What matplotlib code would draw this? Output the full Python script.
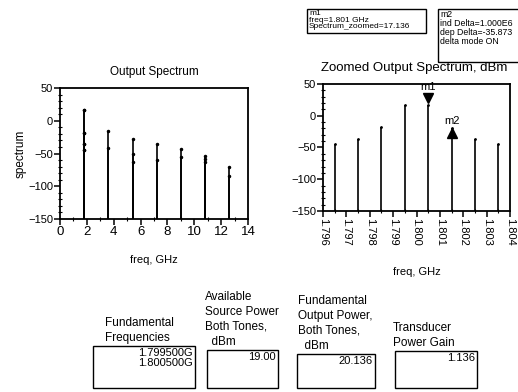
import matplotlib
matplotlib.use("Agg")
import matplotlib.pyplot as plt
import matplotlib.transforms as mtransforms
from matplotlib.patches import Rectangle
from matplotlib.ticker import MultipleLocator, FormatStrFormatter

# spectrum data (dBm)
harmonic_freq = [1.8, 3.6, 5.4, 7.2, 9.0, 10.8, 12.6]
harmonic_levels = [
    [-45, -36, -18, 17, 17.136, -18.7, -36, -45],
    [-15, -42],
    [-28, -50, -63],
    [-35, -60],
    [-43, -55],
    [-54, -58, -63],
    [-70, -84],
]
zoom_freq = [1.7965, 1.7975, 1.7985, 1.7995, 1.8005, 1.8015, 1.8025, 1.8035]
zoom_level = [-45, -36, -18, 17, 17.136, -18.7, -36, -45]
floor_db = -150

# summary readouts
fund_freqs = ["1.799500G", "1.800500G"]
source_power = "19.00"
output_power = "20.136"
tp_gain = "1.136"

plt.rcParams["font.family"] = ["Liberation Sans", "DejaVu Sans"]

W, H = 518, 392
fig = plt.figure(figsize=(W / 100, H / 100), dpi=100)


def px_rect(x0, y0, x1, y1):
    # pixel box (top-left origin) -> figure fraction [l, b, w, h]
    return [x0 / W, 1 - y1 / H, (x1 - x0) / W, (y1 - y0) / H]


def ftext(x, y, s, **kw):
    fig.text(x / W, 1 - y / H, s, **kw)


def style_axes(ax):
    for sp in ax.spines.values():
        sp.set_linewidth(1.3)
    ax.tick_params(which="major", direction="out", length=4, width=1.1, pad=1)
    ax.tick_params(which="minor", direction="inout", length=3, width=0.8)


# left: full output spectrum
ax1 = fig.add_axes(px_rect(60, 88, 248, 219))
for f, levels in zip(harmonic_freq, harmonic_levels):
    ax1.vlines([f] * len(levels), floor_db, levels, color="black", linewidth=1.2)
    ax1.plot([f] * len(levels), levels, ".", color="black", markersize=3)
ax1.set_xlim(0, 14)
ax1.set_ylim(-150, 50)
ax1.xaxis.set_major_locator(MultipleLocator(2))
ax1.xaxis.set_minor_locator(MultipleLocator(1))
ax1.yaxis.set_major_locator(MultipleLocator(50))
ax1.yaxis.set_minor_locator(MultipleLocator(10))
style_axes(ax1)
ax1.tick_params(axis="x", labelsize=9.5)
ax1.tick_params(axis="y", labelsize=8)
ax1.set_title("Output Spectrum", fontsize=8.5, pad=9)
ax1.set_xlabel("freq, GHz", fontsize=8, labelpad=12)
ax1.set_ylabel("spectrum", fontsize=8.5, labelpad=1)

# right: zoomed spectrum around the fundamentals
ax2 = fig.add_axes(px_rect(323, 84, 510, 211))
ax2.vlines(zoom_freq, floor_db, zoom_level, color="black", linewidth=1.2)
ax2.plot(zoom_freq, zoom_level, ".", color="black", markersize=2)
ax2.set_xlim(1.796, 1.804)
ax2.set_ylim(-150, 50)
ax2.xaxis.set_major_locator(MultipleLocator(0.001))
ax2.xaxis.set_major_formatter(FormatStrFormatter("%.3f"))
ax2.xaxis.set_minor_locator(MultipleLocator(0.0005))
ax2.yaxis.set_major_locator(MultipleLocator(50))
ax2.yaxis.set_minor_locator(MultipleLocator(10))
style_axes(ax2)
ax2.tick_params(axis="x", labelsize=8, labelrotation=-90)
ax2.tick_params(axis="y", labelsize=8)
ax2.set_xlabel("freq, GHz", fontsize=8, labelpad=15)

# markers m1 / m2
m1_x, m1_y = zoom_freq[4], zoom_level[4]
m2_x, m2_y = zoom_freq[5], zoom_level[5]
above = mtransforms.offset_copy(ax2.transData, fig=fig, x=0, y=5, units="points")
below = mtransforms.offset_copy(ax2.transData, fig=fig, x=0, y=-4, units="points")
ax2.plot(m1_x, m1_y, "v", color="black", markersize=7, transform=above, clip_on=False)
ax2.plot(m2_x, m2_y, "^", color="black", markersize=7, transform=below, clip_on=False)
ax2.annotate("m1", (m1_x, m1_y), xytext=(0, 9), textcoords="offset points",
             ha="center", va="bottom", fontsize=8)
ax2.annotate("m2", (m2_x, m2_y), xytext=(0, 1), textcoords="offset points",
             ha="center", va="bottom", fontsize=8)

ftext(414, 68, "Zoomed Output Spectrum, dBm", fontsize=9.5, ha="center", va="center")

# marker readout boxes
fig.add_artist(Rectangle((307 / W, 1 - 33 / H), 119 / W, 24 / H, transform=fig.transFigure,
                         facecolor="white", edgecolor="black", linewidth=1))
ftext(309, 10, "m1\nfreq=1.801 GHz\nSpectrum_zoomed=17.136", fontsize=6,
      va="top", ha="left", linespacing=0.95)
fig.add_artist(Rectangle((438 / W, 1 - 62 / H), 90 / W, 53 / H, transform=fig.transFigure,
                         facecolor="none", edgecolor="black", linewidth=1))
ftext(440, 10, "m2\nind Delta=1.000E6\ndep Delta=-35.873\ndelta mode ON", fontsize=6.3,
      va="top", ha="left", linespacing=1.0)

# bottom readouts
readouts = [
    (93, 346, 195, "Fundamental\nFrequencies", 105, "\n".join(fund_freqs)),
    (207, 350, 278, "Available\nSource Power\nBoth Tones,\n  dBm", 205, source_power),
    (297, 354, 375, "Fundamental\nOutput Power,\nBoth Tones,\n  dBm", 298, output_power),
    (395, 351, 477, "Transducer\nPower Gain", 393, tp_gain),
]
for x0, y0, x1, label, lx, value in readouts:
    fig.add_artist(Rectangle((x0 / W, 1 - 388 / H), (x1 - x0) / W, (388 - y0) / H,
                             transform=fig.transFigure, facecolor="none",
                             edgecolor="black", linewidth=1))
    ftext(lx, y0 - 2, label, fontsize=8.5, ha="left", va="bottom", linespacing=1.35)
    ftext(x1 - 2, y0 + 2, value, fontsize=8, ha="right", va="top", linespacing=1.0)

fig.savefig("out.png", dpi=100)
